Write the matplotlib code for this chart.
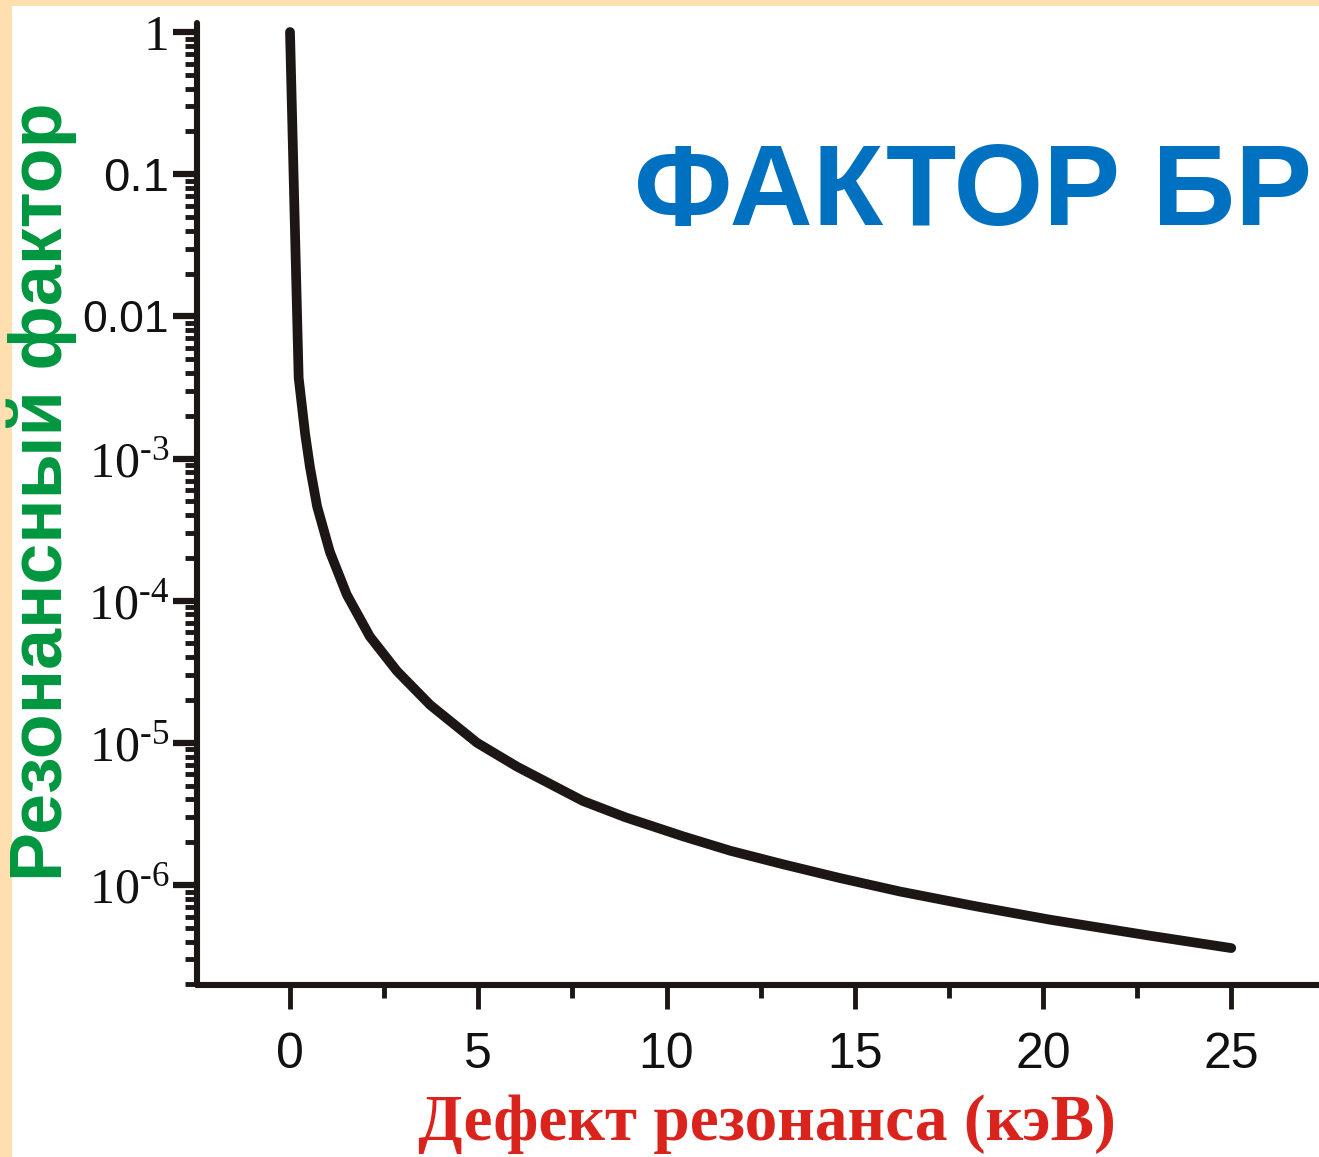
import matplotlib
matplotlib.use("Agg")
import matplotlib.pyplot as plt
from matplotlib.patches import Rectangle
from matplotlib.ticker import FixedLocator, FixedFormatter, LogLocator, MultipleLocator, NullFormatter

plt.rcParams["mathtext.fontset"] = "custom"
plt.rcParams["mathtext.rm"] = "Liberation Serif"
plt.rcParams["mathtext.it"] = "Liberation Serif:italic"
plt.rcParams["mathtext.bf"] = "Liberation Serif:bold"

# Resonance factor vs. resonance defect (keV)
defect_kev = [0.0, 0.23, 0.40, 0.53, 0.72, 1.06, 1.51, 2.12, 2.84, 3.72,
              4.97, 6.03, 7.78, 8.9, 10.44, 11.7, 13.09, 14.6, 16.2, 18.2,
              20.19, 22.84, 25.0]
resonance_factor = [1.0, 3.7e-3, 1.5e-3, 8.7e-4, 4.6e-4, 2.2e-4, 1.1e-4, 5.6e-5,
                    3.2e-5, 1.85e-5, 1.0e-5, 6.8e-6, 3.9e-6, 3.0e-6, 2.2e-6,
                    1.74e-6, 1.4e-6, 1.12e-6, 9.0e-7, 7.1e-7, 5.7e-7, 4.4e-7, 3.6e-7]

x_ticks = [0, 5, 10, 15, 20, 25]
x_tick_labels = ["0", "5", "10", "15", "20", "25"]
y_ticks = [1, 0.1, 0.01, 1e-3, 1e-4, 1e-5, 1e-6]
y_tick_labels = ["1", "0.1", "0.01",
                 "$\\mathrm{10^{\u20103}}$", "$\\mathrm{10^{\u20104}}$",
                 "$\\mathrm{10^{\u20105}}$", "$\\mathrm{10^{\u20106}}$"]
y_tick_sizes = [37, 34, 32, 36, 36, 36, 36]
y_tick_fonts = ["Liberation Serif", "Liberation Sans", "Liberation Sans",
                "Liberation Serif", "Liberation Serif", "Liberation Serif", "Liberation Serif"]

title_text = "ФАКТОР БР"
x_label = "Дефект резонанса (кэВ)"
y_label = "Резонансный фактор"

W, H = 1319, 1157
fig = plt.figure(figsize=(W / 100, H / 100), dpi=100)
fig.patch.set_facecolor("#FFDFAF")
fig.patches.append(Rectangle((12 / W, 0), 1, 1 - 6 / H, transform=fig.transFigure,
                             facecolor="white", edgecolor="none", zorder=-10))

ax = fig.add_axes([197 / W, 172 / H, (W - 197) / W, (985 - 23) / H])
ax.set_facecolor("none")
ax.set_yscale("log")
ax.set_xlim(-2.47, 27.33)
ax.set_ylim(1.98e-7, 1.157)

ink = "#1C1714"
ax.plot(defect_kev, resonance_factor, color=ink, lw=7, solid_capstyle="round",
        solid_joinstyle="round", clip_on=False)

for side in ("top", "right"):
    ax.spines[side].set_visible(False)
for side in ("left", "bottom"):
    ax.spines[side].set_linewidth(4.4)
    ax.spines[side].set_color(ink)
    ax.spines[side].set_capstyle("round")

ax.xaxis.set_major_locator(FixedLocator(x_ticks))
ax.xaxis.set_major_formatter(FixedFormatter(x_tick_labels))
ax.xaxis.set_minor_locator(MultipleLocator(2.5))
ax.yaxis.set_major_locator(FixedLocator(y_ticks))
ax.yaxis.set_major_formatter(FixedFormatter(y_tick_labels))
ax.yaxis.set_minor_locator(LogLocator(base=10, subs=range(2, 10), numticks=20))
ax.yaxis.set_minor_formatter(NullFormatter())

ax.tick_params(axis="x", which="major", direction="out", length=17, width=3.5,
               color=ink, pad=17, labelsize=36, labelcolor="#111111",
               labelfontfamily="Liberation Sans")
ax.tick_params(axis="x", which="minor", direction="out", length=9, width=3.5, color=ink)
ax.tick_params(axis="y", which="major", direction="out", length=17, width=4.5,
               color=ink, pad=3, labelsize=36, labelcolor="#111111")
ax.tick_params(axis="y", which="minor", direction="out", length=9, width=3.5, color=ink)

fig.text(1312 / W, 1 - 225 / H, title_text, ha="right", va="baseline",
         fontsize=83, fontweight="bold", family="Liberation Sans", color="#0070C0")
fig.text(767 / W, 1 - 1140 / H, x_label, ha="center", va="baseline",
         fontsize=47, fontweight="bold", family="Liberation Serif", color="#D9231C")
fig.text(42 / W, 1 - 492 / H, y_label, ha="center", va="center", rotation=90,
         fontsize=53, fontweight="bold", family="Liberation Sans", color="#00963F")

# per-label font and size for the y tick labels (the tick objects exist after a draw)
fig.canvas.draw()
for lab, size, fam in zip(ax.get_yticklabels(), y_tick_sizes, y_tick_fonts):
    lab.set_fontsize(size)
    lab.set_fontfamily(fam)

fig.savefig("out.png", dpi=100, facecolor=fig.get_facecolor())
